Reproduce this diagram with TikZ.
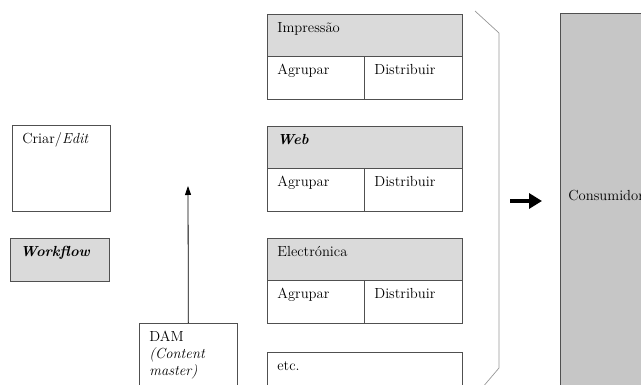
\documentclass[tikz,border=0pt]{standalone}
\usepackage{tikz}
\usetikzlibrary{arrows.meta}
\definecolor{MyLine}{RGB}{80,80,80}
\definecolor{MyGray}{RGB}{218,218,218}
\definecolor{MyDark}{RGB}{198,198,198}
\definecolor{MyBrace}{RGB}{150,150,150}

\begin{document}
\begin{tikzpicture}[
  x=1pt, y=-1pt,
  font=\fontsize{14.6}{17}\selectfont,
  cell/.style 2 args={draw=MyLine, line width=0.7pt, anchor=north west, align=left,
              inner xsep=10pt, inner ysep=0pt, text height=18pt,
              text width=#1, text depth=#2},
  head/.style 2 args={cell={#1}{#2}, fill=MyGray},
  ar/.style={-{Triangle[length=9pt,width=6pt]}, draw=black, line width=0.8pt},
  bigar/.style={-{Triangle[length=13pt,width=15pt]}, draw=black, line width=4pt}
]
\clip (0,0) rectangle (641,385);
% left column
\node[cell={78pt}{68pt}] (edit) at (12,125) {Criar/\textit{Edit}};
\node[head={79pt}{25pt}] (wf) at (10,238) {\textbf{\textit{Workflow}}};
\node[cell={78pt}{57pt}] (dam) at (139,323) {DAM\\\textit{(Content}\\\textit{master)}};
\coordinate (up) at (188,186);
\draw[ar] (dam.north) -- (up);
% channels
\node[head={175pt}{24pt}] (imp) at (267,14) {Impress\~ao};
\node[cell={77pt}{25pt}] (imp-a) at (267,56) {Agrupar};
\node[cell={78pt}{25pt}] (imp-d) at (364,56) {Distribuir};
\node[head={175pt}{24pt}] (web) at (267,126) {\textbf{\textit{Web}}};
\node[cell={77pt}{25pt}] (web-a) at (267,168) {Agrupar};
\node[cell={78pt}{25pt}] (web-d) at (364,168) {Distribuir};
\node[head={175pt}{24pt}] (ele) at (267,238) {Electr\'onica};
\node[cell={77pt}{25pt}] (ele-a) at (267,280) {Agrupar};
\node[cell={78pt}{25pt}] (ele-d) at (364,280) {Distribuir};
\node[cell={175pt}{32pt}] (etc) at (267,352) {etc.};
\draw[MyBrace, line width=0.7pt] (475,11) -- (499,33) -- (499,368) -- (482,388);
% consumer
\node[cell={84pt}{200pt}, fill=MyDark, inner xsep=8pt, text height=187pt] (cons) at (560,13) {Consumidor};
\coordinate (arS) at (510,201);
\coordinate (arE) at (542,201);
\draw[bigar] (arS) -- (arE);
\end{tikzpicture}
\end{document}
